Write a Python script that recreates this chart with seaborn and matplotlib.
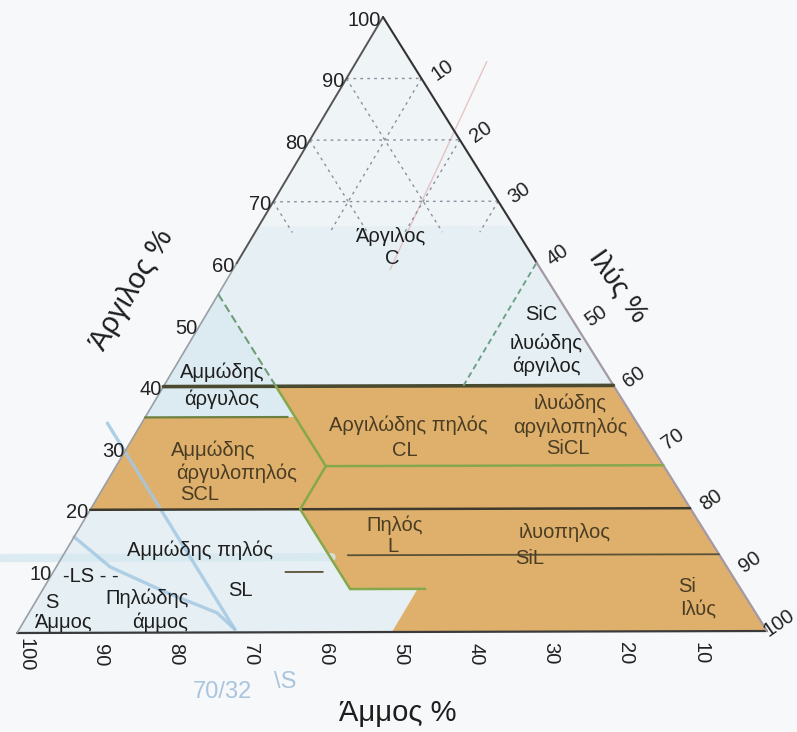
import matplotlib
matplotlib.use("Agg")
import matplotlib.pyplot as plt
import numpy as np
import pandas as pd
import seaborn as sns

# ---------------- data (ternary: clay %, silt %) ----------------
clay_ticks = [10, 20, 30, 40, 50, 60, 70, 80, 90, 100]
silt_ticks = [10, 20, 30, 40, 50, 60, 70, 80, 90, 100]
sand_ticks = [100, 90, 80, 70, 60, 50, 40, 30, 20, 10]

triangle = [(0, 0), (100, 0), (0, 100)]
upper_pale = [(100, 0), (66, 0), (66, 34)]
orange_zone = [(20, 0), (35, 0), (35, 20), (40, 15), (40, 60), (0, 100),
               (0, 50), (7, 50), (7, 41), (20, 28)]
sandy_clay_zone = [(55, 0), (35, 0), (35, 20)]

clay40_line = [(40, 0), (40, 60)]
clay20_line = [(20, 0), (20, 80)]
clay35_line = [(35, 0), (35, 19)]
clay27_line = [(27, 28), (27, 73)]
clay12_line = [(12.5, 38), (12.5, 87.5)]
clay10_short = [(9.8, 31), (9.8, 36)]
sand45_upper = [(55, 0), (40, 15)]
sand45_lower = [(40, 15), (27, 28)]
silt28_line = [(27, 28), (20, 28)]
sand52_line = [(20, 28), (7, 41)]
clay7_line = [(7, 41), (7, 51)]
silt40_line = [(40, 40), (60, 40)]

grid_clay = [90, 80, 70]
grid_silt = [10, 20, 30]
grid_sand = [10, 20, 30]
grid_floor = 65

pink_pencil = [(92.7, 17.4), (58.9, 21.0)]
blue_pencil_a = [(34.1, -4.6), (0.5, 28.8)]
blue_pencil_b = [(15.6, 0.0), (10.7, 7.2), (6.5, 16.8), (3.2, 25.1), (0.5, 28.8)]
blue_band = [(12.2, -8.0), (12.2, 36.0)]

# ---------------- geometry (pixel corners of the triangle) ----------------
BL = (17.0, 633.0)   # sand corner
BR = (767.0, 631.0)  # silt corner
AP = (383.0, 17.0)   # clay corner


def tern(clay, silt):
    sand = 100.0 - clay - silt
    x = (sand * BL[0] + silt * BR[0] + clay * AP[0]) / 100.0
    y = (sand * BL[1] + silt * BR[1] + clay * AP[1]) / 100.0
    return x, y


def xy(points):
    arr = np.array([tern(c, s) for c, s in points])
    return arr[:, 0], arr[:, 1]


sns.set_theme(style="white")
plt.rcParams["font.family"] = ["Liberation Sans", "DejaVu Sans"]

fig = plt.figure(figsize=(7.97, 7.32), dpi=100, facecolor="#f6f8f9")
ax = fig.add_axes([0, 0, 1, 1])
ax.set_xlim(0, 797)
ax.set_ylim(732, 0)
ax.axis("off")
ax.set_facecolor("#f6f8f9")

# fills
x, y = xy(triangle)
ax.fill(x, y, color="#e6f0f4", lw=0, zorder=1)
x, y = xy(upper_pale)
ax.fill(x, y, color="#eff4f7", lw=0, zorder=1.1)
x, y = xy(sandy_clay_zone)
ax.fill(x, y, color="#dcebf1", lw=0, zorder=1.2)
x, y = xy(orange_zone)
ax.fill(x, y, color="#dfb06c", lw=0, zorder=1.3)


def draw_lines(segments, color, lw, ls="-", z=3, alpha=1.0):
    rows = []
    for i, seg in enumerate(segments):
        sx, sy = xy(seg)
        for a, b in zip(sx, sy):
            rows.append({"x": a, "y": b, "seg": i})
    df = pd.DataFrame(rows)
    sns.lineplot(data=df, x="x", y="y", units="seg", estimator=None,
                 sort=False, color=color, lw=lw, ls=ls, ax=ax,
                 zorder=z, alpha=alpha, legend=False)


# pencil annotations
draw_lines([blue_band], "#d6e8ef", 6, z=1.5, alpha=0.8)
draw_lines([blue_pencil_a, blue_pencil_b], "#a3c8e3", 2.4, z=2, alpha=0.85)
draw_lines([pink_pencil], "#deb0b0", 1.0, z=2, alpha=0.7)

# dotted grid in the upper part
grid_segments = []
for c in grid_clay:
    grid_segments.append([(c, 0), (c, 100 - c)])
for s in grid_silt:
    grid_segments.append([(100 - s, s), (grid_floor, s)])
for v in grid_sand:
    grid_segments.append([(100 - v, 0), (grid_floor, 100 - v - grid_floor)])
draw_lines(grid_segments, "#8c8e9e", 1.0, ls=(0, (2, 3)), z=2)

# triangle edges
draw_lines([[(0, 0), (0, 100)]], "#3a3a3a", 1.6, z=4)
draw_lines([[(0, 0), (60, 0)]], "#9a9ea6", 1.2, z=4)
draw_lines([[(60, 0), (100, 0)]], "#555555", 1.4, z=4)
draw_lines([[(100, 0), (60, 40)]], "#333333", 1.5, z=4)
draw_lines([[(60, 40), (0, 100)]], "#a49aa6", 1.6, z=4)

# class boundaries
draw_lines([clay40_line], "#4a4a30", 2.6, z=5)
draw_lines([clay20_line], "#3e3a2c", 1.8, z=5)
draw_lines([clay12_line, clay10_short], "#5a5236", 1.3, z=5)
draw_lines([clay35_line], "#6e8040", 1.6, z=5)
draw_lines([sand45_upper], "#6f9e78", 1.5, ls=(0, (4, 2)), z=5)
draw_lines([silt40_line], "#6fa08a", 1.4, ls=(0, (3, 2)), z=5)
draw_lines([sand45_lower, silt28_line, sand52_line, clay7_line, clay27_line],
           "#86a84c", 1.8, z=5)

# tick labels
tick_fs = 14.5
for c in clay_ticks:
    px, py = tern(c, 0)
    ax.text(px - 2, py + 3, str(c), ha="right", va="center",
            fontsize=tick_fs, color="#222222", zorder=6)
for s in silt_ticks:
    px, py = tern(100 - s, s)
    dx = 21 if s < 100 else 12
    ax.text(px + dx, py - 8, str(s), ha="center", va="center",
            fontsize=tick_fs, color="#222222", rotation=35, zorder=6)
for v in sand_ticks:
    px, py = tern(0, 100 - v)
    ax.text(px + 9, py + 22, str(v), ha="center", va="center",
            fontsize=tick_fs, color="#222222", rotation=-90, zorder=6)

# axis titles
ax.text(132, 290, "Άργιλος %", rotation=59, ha="center", va="center",
        fontsize=21, color="#1e1e1e")
ax.text(617, 287, "Ιλύς %", rotation=-55, ha="center", va="center",
        fontsize=20, color="#1e1e1e")
ax.text(398, 713, "Άμμος %", ha="center", va="center",
        fontsize=21, color="#1e1e1e")

# region labels
dark = "#1e1e1e"
brown = "#4a3d24"
fs = 14.5
labels = [
    ("Άργιλος", 390, 236, dark), ("C", 392, 258, dark),
    ("SiC", 541, 315, dark), ("ιλυώδης", 546, 343, dark),
    ("άργιλος", 546, 366, dark),
    ("Αμμώδης", 222, 372, dark), ("άργυλος", 222, 399, dark),
    ("Αμμώδης", 213, 450, brown), ("άργυλοπηλός", 237, 473, brown),
    ("SCL", 200, 495, brown),
    ("Αργιλώδης πηλός", 408, 425, brown), ("CL", 405, 450, brown),
    ("ιλυώδης", 570, 403, brown), ("αργιλοπηλός", 570, 427, brown),
    ("SiCL", 568, 448, brown),
    ("Πηλός", 395, 525, brown), ("L", 393, 547, brown),
    ("ιλυοπηλος", 565, 533, brown), ("SiL", 530, 558, brown),
    ("Si", 687, 587, brown), ("Ιλύς", 698, 609, brown),
    ("Αμμώδης πηλός", 200, 550, dark),
    ("-LS - -", 91, 577, dark), ("S", 52, 602, dark),
    ("Πηλώδης", 147, 598, dark), ("SL", 240, 590, dark),
    ("Άμμος", 63, 622, dark), ("άμμος", 160, 622, dark),
]
for text, px, py, col in labels:
    ax.text(px, py, text, ha="center", va="center", fontsize=fs,
            color=col, zorder=7)

ax.text(222, 692, "70/32", ha="center", va="center", fontsize=17,
        color="#a9c5de", zorder=7)
ax.text(285, 682, "\\S", ha="center", va="center", fontsize=17,
        color="#a9c5de", zorder=7)

fig.savefig("out.png", dpi=100, facecolor=fig.get_facecolor())
